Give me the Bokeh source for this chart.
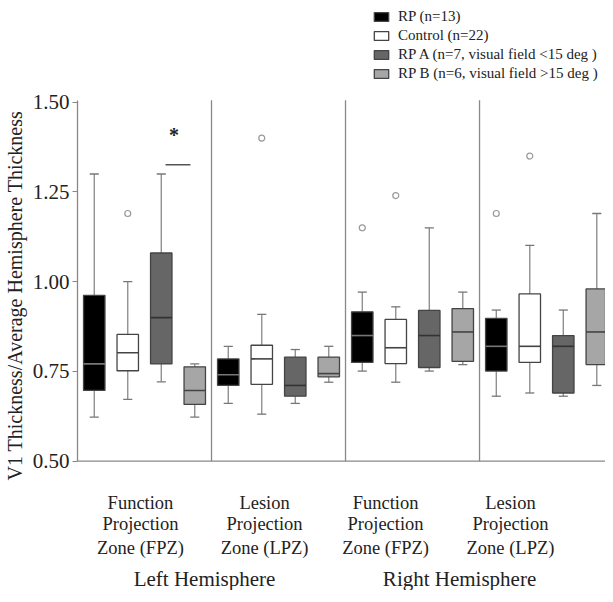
from bokeh.plotting import figure
from bokeh.models import (Span, Label, Legend, LegendItem, FixedTicker, Range1d)
from bokeh.embed import file_html
from bokeh.resources import INLINE

# ---------------- data ----------------
zones = ["Function\nProjection\nZone (FPZ)", "Lesion\nProjection\nZone (LPZ)",
         "Function\nProjection\nZone (FPZ)", "Lesion\nProjection\nZone (LPZ)"]
hemispheres = ["Left Hemisphere", "Right Hemisphere"]
series_names = ["RP (n=13)", "Control (n=22)",
                "RP A (n=7, visual field <15 deg )", "RP B (n=6, visual field >15 deg )"]
series_colors = ["#000000", "#ffffff", "#666666", "#a6a6a6"]

rp_lo = [0.623, 0.661, 0.751, 0.681]
rp_q1 = [0.697, 0.711, 0.775, 0.751]
rp_med = [0.771, 0.741, 0.850, 0.820]
rp_q3 = [0.962, 0.785, 0.916, 0.898]
rp_hi = [1.30, 0.820, 0.971, 0.921]
rp_out_zone = [2, 3]
rp_out_val = [1.15, 1.19]

ctl_lo = [0.672, 0.631, 0.720, 0.690]
ctl_q1 = [0.752, 0.714, 0.772, 0.775]
ctl_med = [0.802, 0.785, 0.816, 0.820]
ctl_q3 = [0.853, 0.823, 0.895, 0.966]
ctl_hi = [1.00, 0.909, 0.930, 1.101]
ctl_out_zone = [0, 1, 2, 3]
ctl_out_val = [1.19, 1.40, 1.24, 1.35]

rpa_lo = [0.721, 0.661, 0.751, 0.681]
rpa_q1 = [0.771, 0.681, 0.761, 0.690]
rpa_med = [0.90, 0.711, 0.850, 0.820]
rpa_q3 = [1.08, 0.790, 0.920, 0.850]
rpa_hi = [1.30, 0.811, 1.150, 0.921]
rpa_out_zone = []
rpa_out_val = []

rpb_lo = [0.623, 0.720, 0.769, 0.711]
rpb_q1 = [0.658, 0.735, 0.778, 0.769]
rpb_med = [0.697, 0.744, 0.860, 0.860]
rpb_q3 = [0.763, 0.790, 0.925, 0.980]
rpb_hi = [0.771, 0.820, 0.971, 1.190]
rpb_out_zone = []
rpb_out_val = []

y_ticks = [0.50, 0.75, 1.00, 1.25, 1.50]
y_min, y_max = 0.5, 1.5056
sig_zone = 0
sig_y = 1.326

series = [
    (rp_lo, rp_q1, rp_med, rp_q3, rp_hi, rp_out_zone, rp_out_val),
    (ctl_lo, ctl_q1, ctl_med, ctl_q3, ctl_hi, ctl_out_zone, ctl_out_val),
    (rpa_lo, rpa_q1, rpa_med, rpa_q3, rpa_hi, rpa_out_zone, rpa_out_val),
    (rpb_lo, rpb_q1, rpb_med, rpb_q3, rpb_hi, rpb_out_zone, rpb_out_val),
]

FONT = "Liberation Serif"
n_zones = len(zones)
x_end = 3.94

p = figure(width=605, height=590, output_backend="svg", toolbar_location=None,
           x_axis_location=None,
           x_range=Range1d(0, x_end), y_range=Range1d(0.1398, 1.7833),
           min_border_left=75, min_border_right=0, min_border_top=0,
           min_border_bottom=0)
p.outline_line_color = None
p.xgrid.visible = False
p.ygrid.visible = False
p.background_fill_color = "white"

box_w = 0.16
cap_half = 0.034
median_colors = ["#777777", "#444444", "#333333", "#444444"]

# baseline (x axis line) and zone separators
p.add_layout(Span(location=y_min, dimension="width", line_color="#888888", line_width=1.3))
p.segment(x0=list(range(1, n_zones)), y0=[y_min] * (n_zones - 1),
          x1=list(range(1, n_zones)), y1=[y_max] * (n_zones - 1),
          line_color="#888888", line_width=1.3)

legend_items = []
for j, (lo, q1, med, q3, hi, oz, ov) in enumerate(series):
    xs = [i + 0.125 + 0.25 * j for i in range(n_zones)]
    p.segment(x0=xs, y0=q3, x1=xs, y1=hi, line_color="#888888", line_width=1.3)
    p.segment(x0=xs, y0=q1, x1=xs, y1=lo, line_color="#888888", line_width=1.3)
    p.segment(x0=[x - cap_half for x in xs], y0=hi, x1=[x + cap_half for x in xs], y1=hi,
              line_color="#777777", line_width=1.3)
    p.segment(x0=[x - cap_half for x in xs], y0=lo, x1=[x + cap_half for x in xs], y1=lo,
              line_color="#777777", line_width=1.3)
    r = p.vbar(x=xs, width=box_w, top=q3, bottom=q1, fill_color=series_colors[j],
               line_color="#444444", line_width=1.3)
    p.segment(x0=[x - box_w / 2 for x in xs], y0=med, x1=[x + box_w / 2 for x in xs], y1=med,
              line_color=median_colors[j], line_width=1.6)
    if oz:
        p.scatter(x=[z + 0.125 + 0.25 * j for z in oz], y=ov, size=6, marker="circle",
                  fill_color="white", line_color="#999999", line_width=1.2)
    legend_items.append(LegendItem(label=series_names[j], renderers=[r]))

# significance marker
sig_x = sig_zone + 0.125 + 0.25 * 2.5
p.segment(x0=[sig_x - 0.093], y0=[sig_y], x1=[sig_x + 0.093], y1=[sig_y],
          line_color="#555555", line_width=1.5)
p.add_layout(Label(x=sig_x - 0.03, y=1.41, text="*", text_font=FONT,
                   text_font_size="20px", text_font_style="bold", text_align="center",
                   text_baseline="middle", text_color="#222222"))

# y axis
ya = p.yaxis[0]
ya.ticker = FixedTicker(ticks=y_ticks)
ya.bounds = (y_min, y_max)
ya.major_label_overrides = {t: f"{t:.2f}" for t in y_ticks}
ya.axis_line_color = "#888888"
ya.axis_line_width = 1.3
ya.major_tick_line_color = "#888888"
ya.major_tick_out = 5
ya.major_tick_in = 0
ya.minor_tick_line_color = None
ya.major_label_text_font = FONT
ya.major_label_text_font_size = "21px"
ya.major_label_text_color = "#222222"
ya.major_label_standoff = 3
ya.axis_label = "V1 Thickness/Average Hemisphere Thickness"
ya.axis_label_text_font = FONT
ya.axis_label_text_font_size = "20px"
ya.axis_label_text_font_style = "normal"
ya.axis_label_text_color = "#222222"
ya.axis_label_standoff = 4

# category labels under the baseline
zone_label_x = [0.470, 1.396, 2.299, 3.231]
zone_line_y = [0.384, 0.3237, 0.2588]
for i, zl in enumerate(zones):
    for k, line in enumerate(zl.split("\n")):
        p.add_layout(Label(x=zone_label_x[i], y=zone_line_y[k], text=line,
                           text_font=FONT, text_font_size="18.5px", text_align="center",
                           text_baseline="middle", text_color="#222222"))
hemi_x = [0.948, 2.851]
for i, h in enumerate(hemispheres):
    p.add_layout(Label(x=hemi_x[i], y=0.1705, text=h, text_font=FONT, text_font_size="21px",
                       text_align="center", text_baseline="middle", text_color="#222222"))

legend = Legend(items=legend_items, location=(295, 508), orientation="vertical",
                label_text_font=FONT, label_text_font_size="15px", label_text_color="#222222",
                glyph_width=18, glyph_height=11, label_height=11, label_standoff=8,
                spacing=2, padding=0, margin=0, border_line_color=None,
                background_fill_alpha=0)
p.add_layout(legend, "center")

open("out.html", "w").write(file_html(p, INLINE))
